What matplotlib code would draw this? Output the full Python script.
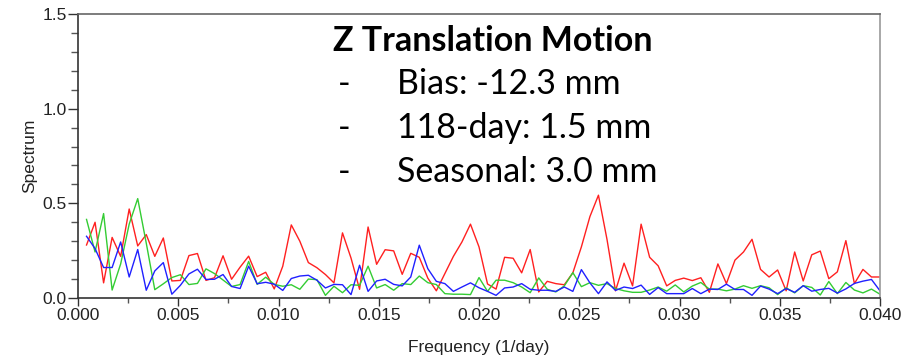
import matplotlib
matplotlib.use("Agg")
import matplotlib.pyplot as plt
import numpy as np
from matplotlib.ticker import MultipleLocator, FormatStrFormatter

# Frequency bins (1/day): k / 2350 for k = 1..94
bin_index = list(range(1, 95))
freq_step = 1.0 / 2350.0

red = [0.28, 0.40, 0.08, 0.32, 0.22, 0.47, 0.275, 0.335, 0.22, 0.317,
       0.09, 0.093, 0.224, 0.235, 0.093, 0.107, 0.223, 0.099, 0.163, 0.221,
       0.113, 0.136, 0.048, 0.168, 0.386, 0.30, 0.187, 0.16, 0.124, 0.08,
       0.344, 0.211, 0.046, 0.375, 0.178, 0.255, 0.249, 0.125, 0.236, 0.215,
       0.105, 0.038, 0.129, 0.22, 0.296, 0.39, 0.27, 0.074, 0.047, 0.215,
       0.21, 0.133, 0.256, 0.032, 0.088, 0.076, 0.07, 0.133, 0.27, 0.43,
       0.543, 0.31, 0.038, 0.184, 0.064, 0.39, 0.215, 0.17, 0.064, 0.093,
       0.105, 0.092, 0.107, 0.03, 0.18, 0.076, 0.2, 0.243, 0.31, 0.151,
       0.111, 0.148, 0.038, 0.243, 0.09, 0.228, 0.248, 0.102, 0.138, 0.303,
       0.076, 0.151, 0.111, 0.111]

blue = [0.326, 0.261, 0.161, 0.161, 0.296, 0.111, 0.256, 0.041, 0.143, 0.187,
        0.02, 0.067, 0.127, 0.152, 0.098, 0.099, 0.124, 0.061, 0.05, 0.168,
        0.075, 0.083, 0.073, 0.04, 0.103, 0.116, 0.12, 0.094, 0.053, 0.072,
        0.07, 0.018, 0.173, 0.035, 0.09, 0.099, 0.072, 0.064, 0.111, 0.279,
        0.155, 0.088, 0.076, 0.035, 0.058, 0.08, 0.054, 0.035, 0.014, 0.053,
        0.058, 0.076, 0.046, 0.041, 0.041, 0.035, 0.058, 0.035, 0.15, 0.08,
        0.023, 0.085, 0.04, 0.058, 0.05, 0.068, 0.019, 0.055, 0.023, 0.023,
        0.023, 0.05, 0.023, 0.047, 0.045, 0.073, 0.045, 0.045, 0.014, 0.063,
        0.047, 0.023, 0.05, 0.03, 0.065, 0.036, 0.045, 0.051, 0.026, 0.048,
        0.077, 0.089, 0.098, 0.038]

green = [0.415, 0.243, 0.446, 0.042, 0.18, 0.39, 0.525, 0.29, 0.044, 0.075,
         0.108, 0.123, 0.071, 0.077, 0.154, 0.129, 0.095, 0.061, 0.071, 0.193,
         0.072, 0.11, 0.072, 0.062, 0.07, 0.046, 0.1, 0.097, 0.014, 0.062,
         0.028, 0.07, 0.067, 0.168, 0.053, 0.071, 0.041, 0.076, 0.071, 0.116,
         0.081, 0.071, 0.023, 0.02, 0.02, 0.018, 0.108, 0.035, 0.094, 0.094,
         0.081, 0.058, 0.028, 0.106, 0.046, 0.032, 0.064, 0.134, 0.06, 0.081,
         0.067, 0.076, 0.05, 0.038, 0.03, 0.03, 0.042, 0.058, 0.036, 0.069,
         0.032, 0.063, 0.082, 0.047, 0.047, 0.038, 0.047, 0.065, 0.051, 0.065,
         0.054, 0.018, 0.054, 0.027, 0.065, 0.056, 0.016, 0.087, 0.023, 0.082,
         0.042, 0.027, 0.047, 0.02]

title_text = "Z Translation Motion"
bullet_items = ["Bias: -12.3 mm", "118-day: 1.5 mm", "Seasonal: 3.0 mm"]

freq = np.array(bin_index) * freq_step

W, H = 916, 360
fig = plt.figure(figsize=(W / 100, H / 100), dpi=100)
ax = fig.add_axes([78 / W, 1 - 298 / H, (880 - 78) / W, (298 - 14) / H])

ax.plot(freq, red, color="#ff2020", lw=1.0, clip_on=True)
ax.plot(freq, green, color="#33cc33", lw=1.0, clip_on=True)
ax.plot(freq, blue, color="#2020ff", lw=1.0, clip_on=True)

ax.set_xlim(0.0, 0.040)
ax.set_ylim(0.0, 1.5)
ax.xaxis.set_major_locator(MultipleLocator(0.005))
ax.xaxis.set_minor_locator(MultipleLocator(0.0025))
ax.yaxis.set_major_locator(MultipleLocator(0.5))
ax.yaxis.set_minor_locator(MultipleLocator(0.1))
ax.xaxis.set_major_formatter(FormatStrFormatter("%.3f"))
ax.yaxis.set_major_formatter(FormatStrFormatter("%.1f"))

tick_font = "Liberation Sans"
ax.tick_params(axis="x", which="major", direction="out", length=5.5, width=1,
               color="#333333", labelsize=12.5, pad=2)
ax.tick_params(axis="x", which="minor", direction="out", length=3.5, width=1,
               color="#555555")
ax.tick_params(axis="y", which="major", direction="out", length=7, width=1,
               color="#333333", labelsize=12.5, pad=1)
ax.tick_params(axis="y", which="minor", direction="out", length=5, width=1,
               color="#555555")
for lab in ax.get_xticklabels() + ax.get_yticklabels():
    lab.set_fontfamily(tick_font)
    lab.set_color("#222222")

ax.spines["left"].set_color("#333333")
ax.spines["bottom"].set_color("#333333")
ax.spines["top"].set_color("#666666")
ax.spines["right"].set_color("#999999")
for s in ax.spines.values():
    s.set_linewidth(1.2)

ax.set_xlabel("Frequency (1/day)", fontsize=12.5, family=tick_font,
              color="#222222", labelpad=12)
ax.set_ylabel("Spectrum", fontsize=12.5, family=tick_font, color="#222222",
              labelpad=4)

# Annotation text block
txt_font = "Lato"
fs = 24.5
fig.text(333 / W, 1 - 41 / H, title_text, fontsize=fs, fontweight="bold",
         family=txt_font, va="center", ha="left", color="black")
for i, item in enumerate(bullet_items):
    yc = 1 - (84 + 44 * i) / H
    fig.text(338 / W, yc, "-", fontsize=fs, family=txt_font,
             va="center", ha="left", color="black")
    fig.text(397 / W, yc, item, fontsize=fs, family=txt_font,
             va="center", ha="left", color="black")

fig.savefig("out.png", dpi=100)
